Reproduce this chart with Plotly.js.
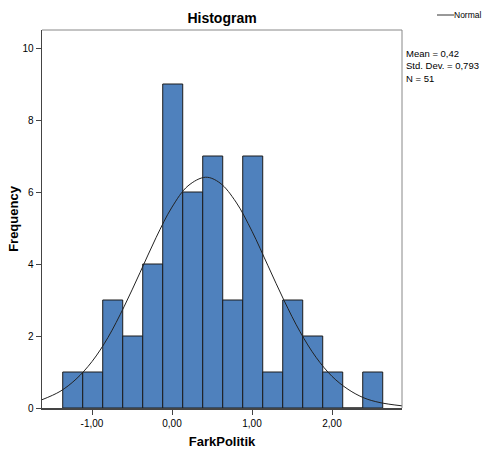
<!DOCTYPE html>
<html><head><meta charset="utf-8">
<script src="https://cdn.plot.ly/plotly-3.0.1.min.js"></script>
<style>body{margin:0;background:#fff}#c{width:486px;height:458px}</style>
</head><body><div id="c"></div>
<script>
// Bin centres (bin width 0.25) and counts
const binCenters = [-1.241,-0.991,-0.741,-0.491,-0.241,0.009,0.259,0.509,0.759,1.009,1.259,1.509,1.759,2.009,2.259,2.509];
const counts     = [1,1,3,2,4,9,6,7,3,7,1,3,2,1,0,1];
// Normal curve
const curveX = [-1.625,-1.4,-1.2,-1.0,-0.8,-0.6,-0.4,-0.2,0.0,0.2,0.42,0.6,0.8,1.0,1.2,1.4,1.6,1.8,2.0,2.2,2.4,2.6,2.875];
const curveY = [0.23,0.46,0.80,1.29,1.96,2.81,3.76,4.73,5.58,6.17,6.41,6.25,5.72,4.91,3.95,2.99,2.12,1.41,0.88,0.52,0.28,0.15,0.06];
const xTickVals = [-1,0,1,2];
const xTickText = ["-1,00","0,00","1,00","2,00"];
const yTickVals = [0,2,4,6,8,10];
const statsText = ["Mean = 0,42","Std. Dev. = 0,793","N = 51"];
const legendLabel = "Normal";

const font = "Liberation Sans, Arial, sans-serif";
const traces = [
  {type:'bar', x:binCenters, y:counts, width:0.25, showlegend:false,
   marker:{color:'#4f81bd', line:{color:'#1c1c1c', width:1}}, hoverinfo:'skip'},
  {type:'scatter', mode:'lines', x:curveX, y:curveY, name:legendLabel, showlegend:false,
   line:{color:'#222', width:1, shape:'spline'}}
];
const layout = {
  width:486, height:458,
  margin:{l:42, r:84, t:30, b:50, autoexpand:false},
  paper_bgcolor:'#fff', plot_bgcolor:'#fff',
  font:{family:font, size:10, color:'#000'},
  title:{text:'<b>Histogram</b>', font:{family:font, size:14, color:'#000'}, x:222/486, xanchor:'center', y:1-18/458, yanchor:'middle'},
  bargap:0,
  showlegend:false,
  xaxis:{range:[-1.625,2.875], tickvals:xTickVals, ticktext:xTickText, ticks:'outside', ticklen:5,
    tickcolor:'#444', showline:true, linecolor:'#444', linewidth:1.5, showgrid:false, zeroline:false,
    tickfont:{family:font, size:10, color:'#000'},
    title:{text:'<b>FarkPolitik</b>', font:{family:font, size:13, color:'#000'}, standoff:9}},
  yaxis:{range:[0,10.5], tickvals:yTickVals, ticks:'outside', ticklen:5,
    tickcolor:'#444', showline:true, linecolor:'#444', linewidth:1.5, showgrid:false, zeroline:false,
    tickfont:{family:font, size:10, color:'#000'},
    title:{text:'<b>Frequency</b>', font:{family:font, size:13, color:'#000'}, standoff:1}},
  shapes:[
    {type:'line', xref:'paper', yref:'paper', x0:0, x1:1, y0:1, y1:1, line:{color:'#888', width:1}},
    {type:'line', xref:'paper', yref:'paper', x0:1, x1:1, y0:0, y1:1, line:{color:'#888', width:1}},
    {type:'line', xref:'paper', yref:'paper', x0:(437-42)/360, x1:(454-42)/360, y0:(408-15)/378, y1:(408-15)/378, line:{color:'#333', width:1}}
  ],
  annotations:[
    {xref:'paper', yref:'paper', x:(404-42)/360, y:(408-46)/378, xanchor:'left', yanchor:'top', align:'left',
     text:statsText.join('<br>'), showarrow:false, font:{family:font, size:9.5, color:'#000'}},
    {xref:'paper', yref:'paper', x:(484-42)/360, y:(408-15)/378, xanchor:'right', yanchor:'middle', align:'right',
     text:legendLabel, showarrow:false, font:{family:font, size:8.5, color:'#000'}}
  ]
};
Plotly.newPlot('c', traces, layout, {staticPlot:true});
</script></body></html>
